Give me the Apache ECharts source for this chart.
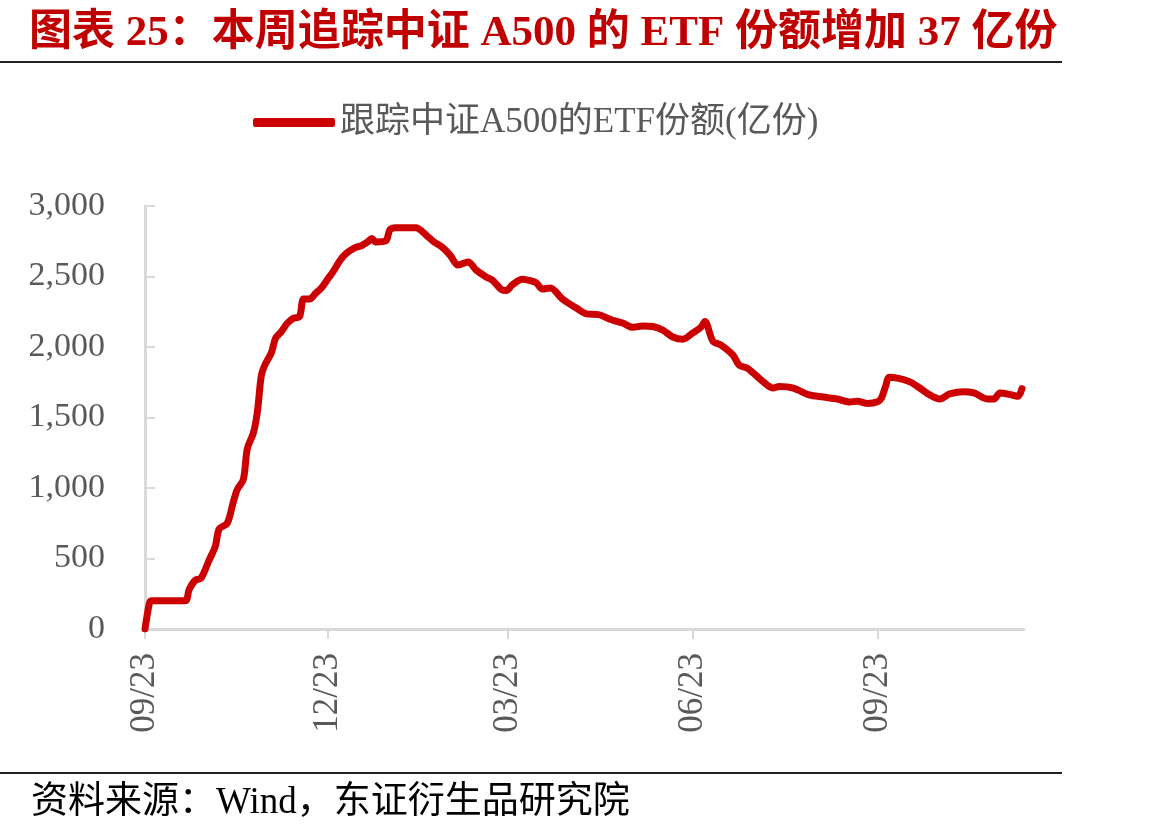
<!DOCTYPE html>
<html>
<head>
<meta charset="utf-8">
<script src="https://cdn.jsdelivr.net/npm/echarts@6/dist/echarts.min.js"></script>
<style>
  html, body { margin: 0; padding: 0; background: #fff; }
  #chart { width: 1162px; height: 832px; }
</style>
</head>
<body>
<div id="chart"></div>
<script>
const dates = [
  '2024-09-23', '2024-09-25', '2024-09-26', '2024-10-13', '2024-10-15', '2024-10-18',
  '2024-10-21', '2024-10-25', '2024-10-28', '2024-10-30', '2024-11-03', '2024-11-06',
  '2024-11-08', '2024-11-11', '2024-11-13', '2024-11-16', '2024-11-18', '2024-11-20',
  '2024-11-22', '2024-11-25', '2024-11-27', '2024-11-30', '2024-12-03', '2024-12-06',
  '2024-12-09', '2024-12-11', '2024-12-14', '2024-12-17', '2024-12-20', '2024-12-23',
  '2024-12-26', '2024-12-29', '2025-01-01', '2025-01-05', '2025-01-09', '2025-01-12',
  '2025-01-14', '2025-01-16', '2025-01-21', '2025-01-23', '2025-01-26', '2025-02-05',
  '2025-02-10', '2025-02-14', '2025-02-18', '2025-02-22', '2025-02-26', '2025-03-03',
  '2025-03-07', '2025-03-12', '2025-03-15', '2025-03-20', '2025-03-22', '2025-03-25',
  '2025-03-30', '2025-04-03', '2025-04-06', '2025-04-09', '2025-04-13', '2025-04-19',
  '2025-04-26', '2025-05-01', '2025-05-07', '2025-05-13', '2025-05-19', '2025-05-24',
  '2025-05-29', '2025-06-03', '2025-06-08', '2025-06-13', '2025-06-18', '2025-06-23',
  '2025-06-27', '2025-06-29', '2025-07-03', '2025-07-07', '2025-07-13', '2025-07-16',
  '2025-07-20', '2025-07-23', '2025-07-28', '2025-08-02', '2025-08-05', '2025-08-12',
  '2025-08-20', '2025-08-27', '2025-09-03', '2025-09-09', '2025-09-13', '2025-09-18',
  '2025-09-23', '2025-09-25', '2025-09-27', '2025-09-29', '2025-10-09', '2025-10-14',
  '2025-10-19', '2025-10-24', '2025-10-29', '2025-11-05', '2025-11-10', '2025-11-17',
  '2025-11-20', '2025-11-23', '2025-11-29', '2025-12-02', '2025-12-04'
];
const shares = [
  0, 170, 200, 200, 280, 345,
  362, 490, 585, 710, 750, 900,
  990, 1060, 1280, 1390, 1540, 1800,
  1880, 1960, 2060, 2110, 2170, 2205,
  2215, 2340, 2340, 2380, 2420, 2480,
  2540, 2610, 2660, 2700, 2720, 2745,
  2770, 2745, 2752, 2830, 2845, 2845,
  2795, 2745, 2709, 2652, 2581, 2603,
  2546, 2496, 2475, 2404, 2400, 2440,
  2480, 2470, 2454, 2411, 2418, 2340,
  2276, 2235, 2230, 2195, 2170, 2140,
  2149, 2145, 2120, 2071, 2055, 2100,
  2140, 2180, 2040, 2014, 1943, 1872,
  1851, 1816, 1754, 1709, 1720, 1709,
  1660, 1645, 1631, 1610, 1615, 1600,
  1612, 1640, 1720, 1785, 1754, 1709,
  1660, 1631, 1667, 1683, 1674, 1631,
  1631, 1674, 1660, 1650, 1705
];
const tickDates = ['2024-09-23', '2024-12-23', '2025-03-23', '2025-06-23', '2025-09-23'];
const axisStart = '2024-09-23';
const axisEnd = '2025-12-05';

const seriesName = '跟踪中证A500的ETF份额(亿份)';
const serif = "'Liberation Serif', 'Noto Sans CJK SC', serif";
const red = '#CC0000';
const gray = '#595959';

// dates -> timestamps, x axis is a plain value axis over time
const ts = d => echarts.time.parse(d).getTime();
const tickValues = tickDates.map(ts);

var myChart = echarts.init(document.getElementById('chart'));
const option = {
  backgroundColor: '#fff',
  animation: false,
  title: [
    {
      text: '图表 25：本周追踪中证 A500 的 ETF 份额增加 37 亿份',
      left: 24,
      top: 7,
      textStyle: { color: '#C00000', fontSize: 43, fontWeight: 'bold', fontFamily: serif },
    },
    {
      text: '资料来源：Wind，东证衍生品研究院',
      left: 26,
      top: 780,
      textStyle: { color: '#000', fontSize: 37, fontWeight: 'normal', fontFamily: serif },
    },
  ],
  graphic: [
    { type: 'line', shape: { x1: 0, y1: 62, x2: 1062, y2: 62 }, style: { stroke: '#222', lineWidth: 2 } },
    { type: 'line', shape: { x1: 0, y1: 773, x2: 1062, y2: 773 }, style: { stroke: '#222', lineWidth: 2 } },
  ],
  legend: {
    top: 100,
    left: 248,
    icon: 'roundRect',
    itemWidth: 82,
    itemHeight: 9,
    itemGap: 10,
    textStyle: { color: gray, fontSize: 35, fontFamily: serif },
    data: [seriesName],
  },
  grid: { left: 145, right: 138, top: 206, bottom: 203 },
  xAxis: {
    type: 'value',
    min: ts(axisStart),
    max: ts(axisEnd),
    axisLine: { lineStyle: { color: '#D9D9D9', width: 3 } },
    axisTick: { show: true, length: 10, lineStyle: { color: '#D9D9D9', width: 2 }, customValues: tickValues },
    axisLabel: {
      rotate: 90,
      margin: 24,
      color: gray,
      fontSize: 35,
      fontFamily: serif,
      customValues: tickValues,
      formatter: v => echarts.time.format(v, '{MM}/{dd}', false),
    },
    splitLine: { show: false },
  },
  yAxis: {
    type: 'value',
    min: 0,
    max: 3000,
    interval: 500,
    axisLine: { show: true, lineStyle: { color: '#D9D9D9', width: 3 } },
    axisTick: { show: true, inside: true, length: 10, lineStyle: { color: '#D9D9D9', width: 2 } },
    axisLabel: {
      margin: 40,
      color: gray,
      fontSize: 34,
      fontFamily: serif,
      formatter: v => v.toLocaleString('en-US'),
    },
    splitLine: { show: false },
  },
  series: [
    {
      name: seriesName,
      type: 'line',
      data: dates.map((d, i) => [ts(d), shares[i]]),
      showSymbol: false,
      smooth: 0.3,
      color: red,
      lineStyle: { color: red, width: 7, cap: 'round', join: 'round' },
    },
  ],
};
myChart.setOption(option);
</script>
</body>
</html>
